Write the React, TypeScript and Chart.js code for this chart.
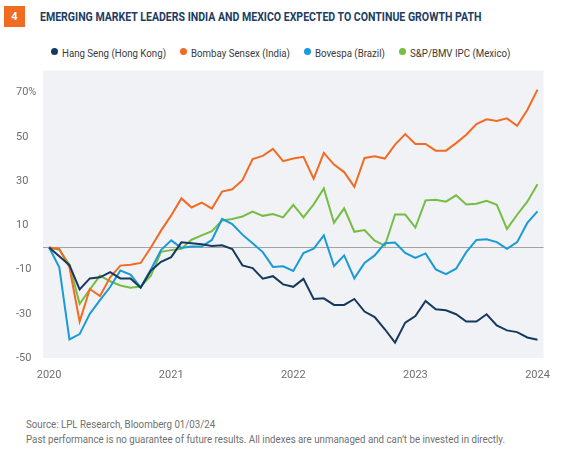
import React, { useEffect, useRef } from "react";
import { Chart, registerables } from "chart.js";

Chart.register(...registerables);

const categories = [
  "Jan 2020", "Feb 2020", "Mar 2020", "Apr 2020", "May 2020", "Jun 2020", "Jul 2020", "Aug 2020", "Sep 2020", "Oct 2020", "Nov 2020", "Dec 2020",
  "Jan 2021", "Feb 2021", "Mar 2021", "Apr 2021", "May 2021", "Jun 2021", "Jul 2021", "Aug 2021", "Sep 2021", "Oct 2021", "Nov 2021", "Dec 2021",
  "Jan 2022", "Feb 2022", "Mar 2022", "Apr 2022", "May 2022", "Jun 2022", "Jul 2022", "Aug 2022", "Sep 2022", "Oct 2022", "Nov 2022", "Dec 2022",
  "Jan 2023", "Feb 2023", "Mar 2023", "Apr 2023", "May 2023", "Jun 2023", "Jul 2023", "Aug 2023", "Sep 2023", "Oct 2023", "Nov 2023", "Dec 2023",
  "Jan 2024",
];

const hangSeng = [
  0, -4, -8, -19, -14, -13.5, -11.2, -14, -14, -18.2, -10.5, -6.5,
  -4.4, 2.3, 1.9, 1.4, 0.7, 1.0, -0.7, -8.1, -9.3, -14.1, -13, -16.7,
  -17.8, -14.2, -23.3, -23, -26, -26, -23.3, -29, -31.5, -37, -43, -34,
  -31, -24.2, -28, -28.4, -30.2, -33.5, -33.5, -30.2, -35.3, -37.5, -38.3, -40.7,
  -41.7,
];

const bombaySensex = [
  0, -0.7, -9, -33.5, -18.8, -22, -13.5, -8.2, -7.8, -7, 0, 7.6,
  14.5, 22.2, 18.1, 20.3, 17.6, 25.3, 26.3, 30.4, 40, 41.4, 44.6, 39,
  40.2, 41, 31.1, 42.8, 37.5, 34.1, 27.4, 40.5, 41.3, 40.2, 46.5, 51.3,
  46.8, 46.8, 43.8, 43.8, 47.2, 51, 55.8, 58, 57.2, 58.4, 55, 62.2,
  71.4,
];

const bovespa = [
  0, -9, -41.6, -39.2, -30, -23.8, -17.9, -10.4, -12.3, -18, -10, -1.2,
  3.2, -0.2, 0.4, 0.4, 3.4, 12.9, 10.6, 5.8, 1.9, -2.1, -8.8, -8.5,
  -10.6, -2.5, -0.6, 5.5, -8.4, -3.6, -14, -7, -3.6, 1.9, 2.2, -2.5,
  -4.7, -2.7, -9.9, -12.1, -9.6, -2.1, 3.4, 3.7, 2.4, -0.6, 2.4, 11.1,
  16.3,
];

const spBmvIpc = [
  0, -1, -7.8, -25.5, -19, -12.7, -15.3, -17.2, -18.2, -17.7, -12.8, -2,
  -1.2, -0.6, 3.5, 5.5, 7.4, 12.2, 12.9, 14, 16.2, 14.3, 15.1, 13.6,
  19.3, 13.6, 19.5, 26.7, 11.2, 17.7, 7.1, 7.9, 3.1, 0.8, 14.9, 14.9,
  9, 21.3, 21.6, 20.7, 23.6, 19.4, 19.8, 21.1, 19.3, 8.4, 14.8, 20.7,
  28.6,
];

const seriesNames = [
  "Hang Seng (Hong Kong)",
  "Bombay Sensex (India)",
  "Bovespa (Brazil)",
  "S&P/BMV IPC (Mexico)",
];
const seriesValues = [hangSeng, bombaySensex, bovespa, spBmvIpc];
const seriesColors = ["#163a5f", "#f26b22", "#1a9ad6", "#76bd43"];

const yTickValues = [-50, -30, -10, 10, 30, 50, 70];

const titleText = "EMERGING MARKET LEADERS INDIA AND MEXICO EXPECTED TO CONTINUE GROWTH PATH";
const chartNumber = "4";
const sourceText = "Source: LPL Research, Bloomberg 01/03/24";
const disclaimerText =
  "Past performance is no guarantee of future results. All indexes are unmanaged and can\u2019t be invested in directly.";

const measureCtx = (() => {
  if (typeof document === "undefined") return null;
  return document.createElement("canvas").getContext("2d");
})();

function measure(text: string, font: string): number {
  if (!measureCtx) return text.length * 6;
  measureCtx.font = font;
  return measureCtx.measureText(text).width;
}

function Squeezed({ text, font, k, color }: { text: string; font: string; k: number; color: string }) {
  const w = measure(text, font);
  return (
    <span style={{ display: "inline-block", width: w * k, whiteSpace: "nowrap", overflow: "visible" }}>
      <span
        style={{
          display: "inline-block",
          font,
          color,
          transform: `scaleX(${k})`,
          transformOrigin: "left center",
          whiteSpace: "nowrap",
        }}
      >
        {text}
      </span>
    </span>
  );
}

const bgPlugin = {
  id: "plotBg",
  beforeDraw(chart: any) {
    const { ctx, chartArea } = chart;
    if (!chartArea) return;
    ctx.save();
    ctx.fillStyle = "#f1f2f5";
    ctx.fillRect(chartArea.left, chartArea.top, chartArea.right - chartArea.left, chartArea.bottom - chartArea.top);
    const y = chart.scales.y.getPixelForValue(0);
    ctx.strokeStyle = "#a3a3a3";
    ctx.lineWidth = 1;
    ctx.beginPath();
    ctx.moveTo(chartArea.left, Math.round(y) + 0.5);
    ctx.lineTo(chartArea.right, Math.round(y) + 0.5);
    ctx.stroke();
    ctx.restore();
  },
};

export default function App() {
  const canvasRef = useRef<HTMLCanvasElement | null>(null);

  useEffect(() => {
    document.body.style.margin = "0";
    const canvas = canvasRef.current;
    if (!canvas) return;
    const chart = new Chart(canvas, {
      type: "line",
      data: {
        datasets: seriesValues.map((vals, si) => ({
          label: seriesNames[si],
          data: vals.map((v, i) => ({ x: i, y: v })),
          borderColor: seriesColors[si],
          backgroundColor: seriesColors[si],
          borderWidth: 2,
          pointRadius: 0,
          tension: 0,
          fill: false,
        })),
      },
      options: {
        animation: false,
        responsive: true,
        maintainAspectRatio: false,
        layout: { padding: { left: 16, right: 12, top: 9, bottom: 0 } },
        plugins: {
          legend: { display: false },
          tooltip: { enabled: false },
        },
        scales: {
          x: {
            type: "linear",
            min: -0.6,
            max: 48.6,
            afterBuildTicks: (scale: any) => {
              scale.ticks = categories
                .map((c, i) => ({ c, i }))
                .filter((o) => o.c.startsWith("Jan"))
                .map((o) => ({ value: o.i }));
            },
            afterFit: (scale: any) => {
              scale.height = 32;
            },
            ticks: {
              autoSkip: false,
              maxRotation: 0,
              padding: 11,
              color: "#6f6f6f",
              font: { family: "Roboto", size: 11 },
              callback: (v: any) => {
                const c = categories[Math.round(Number(v))];
                return c ? c.split(" ")[1] : "";
              },
            },
            grid: { display: false, drawTicks: false },
            border: { display: false },
          },
          y: {
            type: "linear",
            min: -50,
            max: 80,
            afterBuildTicks: (scale: any) => {
              scale.ticks = yTickValues.map((value) => ({ value }));
            },
            afterFit: (scale: any) => {
              scale.width = 27;
            },
            ticks: {
              crossAlign: "far",
              padding: 4,
              color: "#6f6f6f",
              font: { family: "Roboto", size: 11 },
              callback: (v: any) => (Number(v) === 70 ? "70%" : String(v)),
            },
            grid: { display: false, drawTicks: false },
            border: { display: false },
          },
        },
      },
      plugins: [bgPlugin],
    } as any);
    return () => chart.destroy();
  }, []);

  const titleFont = "bold 12.5px Roboto";
  const kTitle = 442 / measure(titleText, titleFont);
  const legendFont = "11px Roboto";
  const kLegend = 104 / measure(seriesNames[0], legendFont);
  const footFont = "10.5px Roboto";
  const kFoot = 479 / measure(disclaimerText, footFont);

  return (
    <div
      style={{
        position: "absolute",
        left: 0,
        top: 0,
        width: 561,
        height: 449,
        background: "#ffffff",
        overflow: "hidden",
        fontFamily: "Roboto, sans-serif",
      }}
    >
      <div
        style={{
          position: "absolute",
          left: 4,
          top: 6,
          width: 21,
          height: 21,
          background: "#f26b22",
          color: "#ffffff",
          font: "bold 11px Roboto",
          display: "flex",
          alignItems: "center",
          justifyContent: "center",
        }}
      >
        {chartNumber}
      </div>
      <div style={{ position: "absolute", left: 40, top: 7, height: 16, display: "flex", alignItems: "center" }}>
        <Squeezed text={titleText} font={titleFont} k={kTitle} color="#1c3d64" />
      </div>
      <div
        style={{
          position: "absolute",
          left: 0,
          top: 44,
          width: 561,
          height: 14,
          display: "flex",
          justifyContent: "center",
          alignItems: "center",
        }}
      >
        {seriesNames.map((name, i) => (
          <div key={name} style={{ display: "flex", alignItems: "center", marginLeft: i === 0 ? 0 : 14 }}>
            <span
              style={{
                display: "inline-block",
                width: 7,
                height: 7,
                borderRadius: "50%",
                background: seriesColors[i],
                marginRight: 4,
              }}
            />
            <Squeezed text={name} font={legendFont} k={kLegend} color="#3a3a3a" />
          </div>
        ))}
      </div>
      <div style={{ position: "absolute", left: 0, top: 60, width: 561, height: 330 }}>
        <canvas ref={canvasRef} />
      </div>
      <div style={{ position: "absolute", left: 26, top: 416, lineHeight: "14px" }}>
        <div>
          <Squeezed text={sourceText} font={footFont} k={kFoot} color="#707070" />
        </div>
        <div>
          <Squeezed text={disclaimerText} font={footFont} k={kFoot} color="#707070" />
        </div>
      </div>
    </div>
  );
}
